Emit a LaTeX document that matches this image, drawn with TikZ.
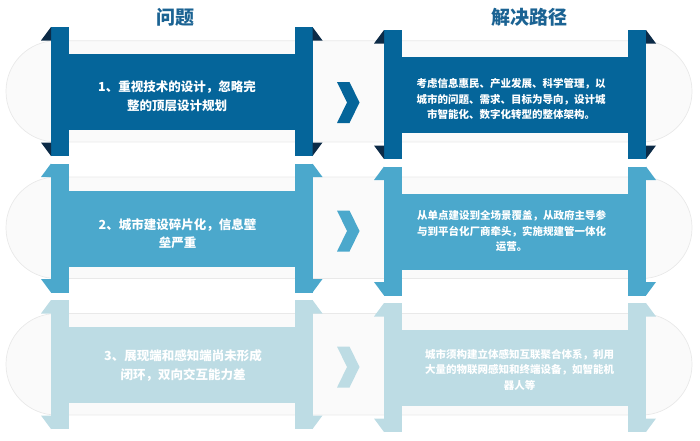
\documentclass[tikz,border=0pt]{standalone}
\usepackage{fontspec}
\newfontfamily\cjk{Noto Sans CJK SC}
\definecolor{rowA}{HTML}{05659A}
\definecolor{triA}{HTML}{0C2B47}
\definecolor{rowB}{HTML}{4BA8CC}
\definecolor{rowC}{HTML}{BDDCE4}
\definecolor{titlecol}{HTML}{1B6393}
\definecolor{pillfill}{HTML}{FAFAFA}
\definecolor{pillline}{HTML}{E9E9E9}
\tikzset{
  pillbox/.style={fill=pillfill, draw=pillline, line width=0.7pt, rounded corners=50.5pt},
  titletext/.style={font=\cjk\bfseries\fontsize{19}{22}\selectfont, text=titlecol},
  probtext/.style={font=\cjk\bfseries\fontsize{12.5}{18.5}\selectfont, text=white, align=center},
  soltext/.style={font=\cjk\bfseries\fontsize{10.5}{15.5}\selectfont, text=white, align=center},
}
\newcommand\mybanner[5]{%
  \fill[#4] (#1,#3) rectangle ($(#1,#3)+(18,129)$);
  \fill[#4] (#2,#3) rectangle ($(#2,#3)+(-18,129)$);
  \fill[#4] ($(#1,#3)+(0,27)$) rectangle ($(#2,#3)+(0,103)$);
  \fill[#5] (#1,#3) -- ++(-10,13.5) -- ++(10,0) -- cycle;
  \fill[#5] ($(#1,#3)+(0,129)$) -- ++(-10,-13.5) -- ++(10,0) -- cycle;
  \fill[#5] (#2,#3) -- ++(10,13.5) -- ++(-10,0) -- cycle;
  \fill[#5] ($(#2,#3)+(0,129)$) -- ++(10,-13.5) -- ++(-10,0) -- cycle;
}
\newcommand\mychevron[2]{%
  \fill[#2] ($(337,#1)+(0,-20.5)$) -- ++(12.5,0) -- ++(10,20.5) -- ++(-10,20.5) -- ++(-12.5,0) -- ++(10,-20.5) -- cycle;
}
\usetikzlibrary{calc}
\begin{document}
\begin{tikzpicture}[x=1pt,y=-1pt]
\useasboundingbox (0,0) rectangle (700,440);
% titles
\node[titletext] (t1) at (175,17) {问题};
\node[titletext] (t2) at (529,17) {解决路径};
% pills
\draw[pillbox] (6,40.7) rectangle (692,142);
\draw[pillbox] (6,177) rectangle (692,278.5);
\draw[pillbox] (6,313.5) rectangle (692,415);
% banners
\mybanner{51}{312.5}{27}{rowA}{triA}
\mybanner{384}{646}{30}{rowA}{triA}
\mybanner{51}{312.5}{163.5}{rowB}{rowB}
\mybanner{384}{646}{166.5}{rowB}{rowB}
\mybanner{51}{312.5}{300}{rowC}{rowC}
\mybanner{384}{646}{303}{rowC}{rowC}
% chevrons
\mychevron{102.5}{rowA}
\mychevron{231}{rowB}
\mychevron{367}{rowC}
% texts
\node[probtext] (p1) at (177,96) {1、重视技术的设计，忽略完\\整的顶层设计规划};
\node[probtext] (p2) at (177.5,233.5) {2、城市建设碎片化，信息壁\\垒严重};
\node[probtext] (p3) at (183,365.5) {3、展现端和感知端尚未形成\\闭环，双向交互能力差};
\node[soltext] (s1) at (511,99) {考虑信息惠民、产业发展、科学管理，以\\城市的问题、需求、目标为导向，设计城\\市智能化、数字化转型的整体架构。};
\node[soltext] (s2) at (511.5,231) {从单点建设到全场景覆盖，从政府主导参\\与到平台化厂商牵头，实施规建管一体化\\运营。};
\node[soltext] (s3) at (519.5,369.5) {城市须构建立体感知互联聚合体系，利用\\大量的物联网感知和终端设备，如智能机\\器人等};
\end{tikzpicture}
\end{document}
